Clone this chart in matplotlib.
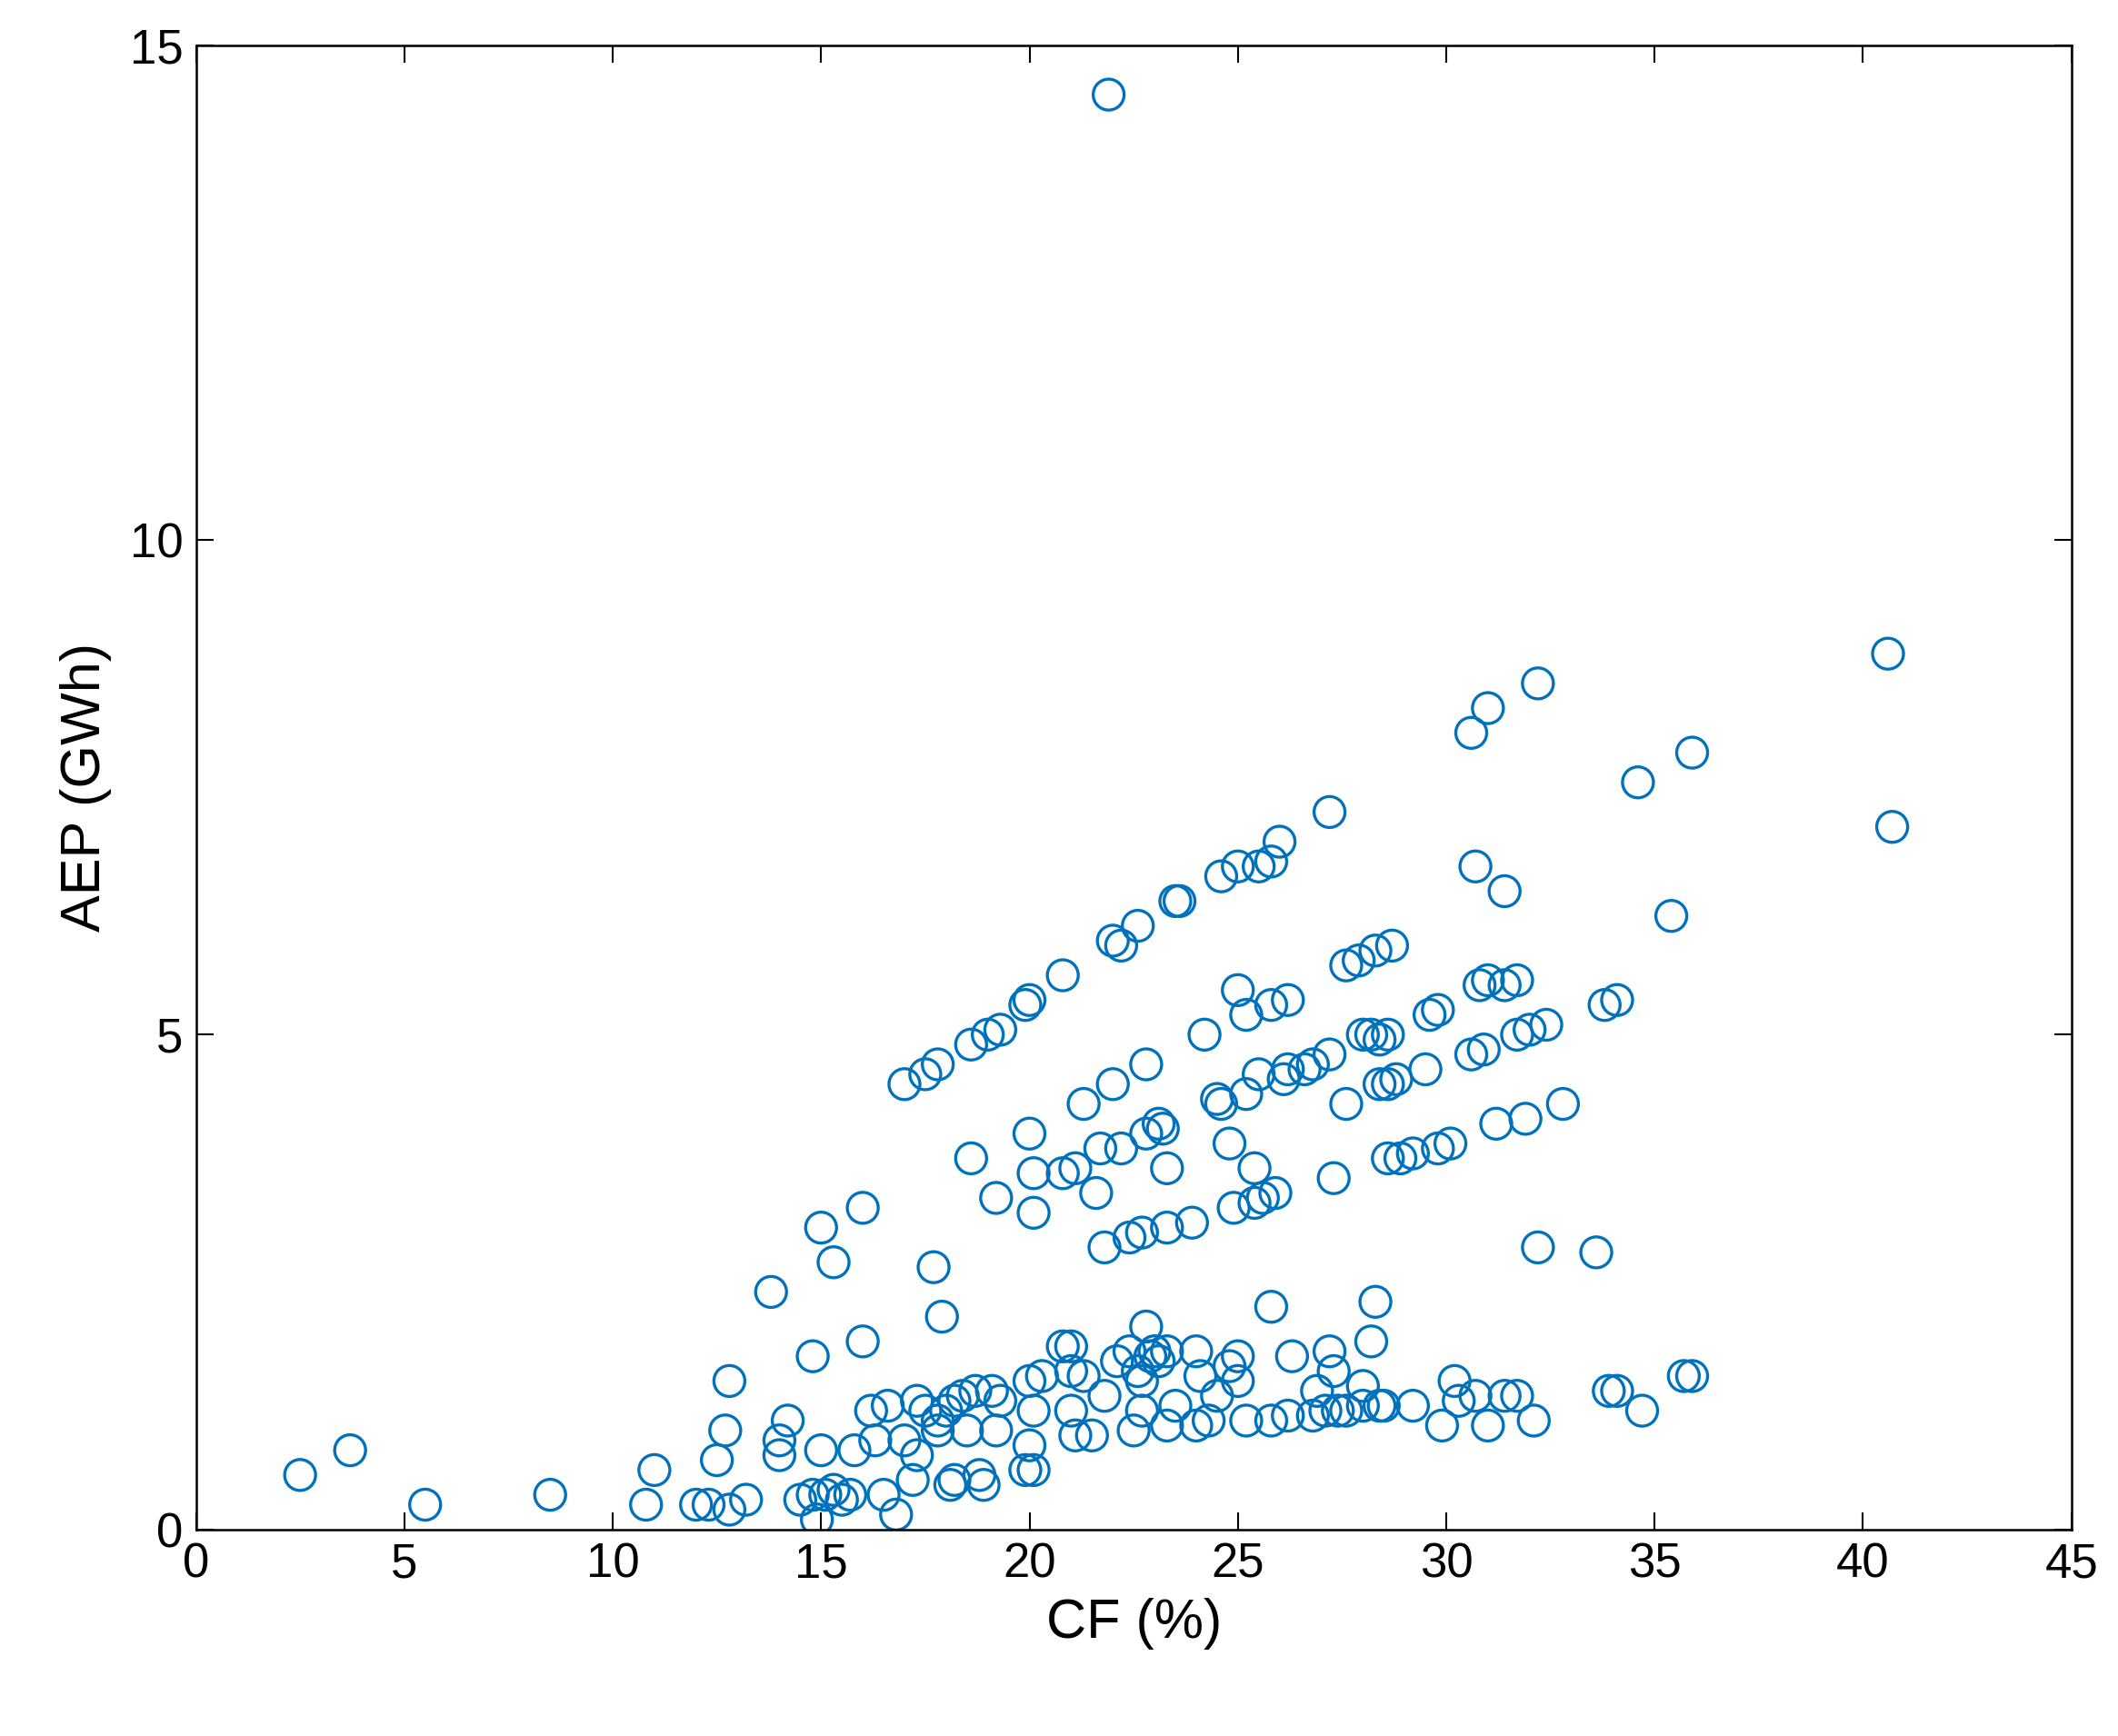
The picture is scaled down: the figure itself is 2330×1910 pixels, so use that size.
import matplotlib
matplotlib.use("Agg")
import matplotlib.pyplot as plt
plt.rcParams['font.family'] = ['Liberation Sans', 'DejaVu Sans']

cf = [17,17.5,17.8,18.6,19,19.3,19.9,20,20.8,22,22.2,22.6,23.5,23.6,24.6,25,25.5,25.8,26,27.2,30.6,31,32.2,40.6,40.7,35.9,34.6,35.4,31.4,30.7,
      18.6,19.2,20,20.1,20.1,20.8,21.1,21.3,21.6,21.7,22,22.2,22.8,22.8,23.1,23.2,23.3,24.2,24.5,24.6,24.8,25,25.2,25.2,25.4,25.5,25.8,26.1,26.2,26.2,26.6,26.8,27.2,27.6,27.6,27.3,27.9,28,28.2,28.3,28.4,28.4,28.7,28.6,28.6,28.8,28.6,28.9,29.2,29.5,29.6,29.8,29.8,30.1,30.6,30.8,30.9,31,31.2,31.4,31.7,31.7,31.9,32.0,32.4,32.8,33.8,34.1,32.2,33.6,
      21.8,22.4,22.7,23.3,23.9,24.9,25.4,25.6,25.9,
      2.5,3.7,5.5,8.5,10.8,11.0,12,12.3,12.5,12.7,12.8,12.8,13.2,13.8,14,14,14.2,14.5,14.8,14.8,14.9,15,15,15.1,15.3,15.3,15.5,15.7,15.8,16,16,16.2,16.3,16.5,16.6,16.8,17,17.2,17.3,17.3,17.5,17.7,17.8,17.8,17.9,18,18.1,18.2,18.2,18.4,18.5,18.7,18.8,18.9,19.1,19.2,19.3,19.9,20,20,20.1,20.1,20.3,20.8,21,21,21,21.1,21.3,21.5,21.8,22.1,22.4,22.5,22.6,22.7,22.7,22.8,22.9,23,23.1,23.3,23.3,23.5,24,24,24.1,24.3,24.5,24.8,25,25,25.2,25.8,25.8,26.2,26.3,26.8,26.9,27.1,27.2,27.3,27.4,27.6,28,28,28.2,28.3,28.4,28.5,29.2,29.9,30.2,30.3,30.7,31,31.4,31.7,32.1,33.9,34.1,34.7,35.7,35.9,21.9]
aep = [4.5,4.6,4.7,4.9,5.0,5.05,5.3,5.35,5.6,5.95,5.9,6.1,6.35,6.35,6.6,6.7,6.7,6.75,6.95,7.25,8.05,8.3,8.55,8.85,7.1,7.85,7.55,6.2,6.45,6.7,
       3.75,3.35,4.0,3.6,3.2,3.6,3.65,4.3,3.4,3.85,4.5,3.85,4.7,4.0,4.1,4.05,3.65,5.0,4.35,4.3,3.9,5.45,5.2,4.4,3.65,4.6,5.3,4.55,5.35,4.65,4.65,4.7,4.8,5.7,4.3,3.55,5.75,5.0,5.0,5.85,4.95,4.5,5.9,4.5,5.0,4.55,3.75,3.75,3.8,4.65,5.2,5.25,3.85,3.9,4.8,5.5,4.85,5.55,4.1,5.5,5.55,5.0,4.15,5.05,5.1,4.3,5.3,5.35,2.85,2.8,
       2.85,2.95,3.0,3.05,3.1,3.25,3.3,3.35,3.4,
       0.55,0.8,0.25,0.35,0.25,0.6,0.25,0.25,0.7,1.0,0.2,1.5,0.3,2.4,0.75,0.9,1.1,0.3,0.35,1.75,0.1,0.8,3.05,0.35,2.7,0.4,0.3,0.35,0.8,1.9,3.25,1.2,0.9,0.35,1.25,0.15,0.9,0.5,1.3,0.75,1.2,2.65,1.1,1.0,2.15,1.2,0.45,1.3,0.5,1.35,1.0,1.4,0.55,0.45,1.4,1.0,1.3,0.6,0.85,1.5,1.2,0.6,1.55,1.85,1.85,1.6,1.2,0.95,1.55,0.95,1.35,1.7,1.8,1.0,1.6,1.5,1.2,2.05,1.75,1.8,1.7,1.8,1.05,1.25,1.8,1.05,1.55,1.1,1.35,1.65,1.75,1.5,1.1,2.25,1.1,1.15,1.75,1.15,1.4,1.2,1.8,1.6,1.2,1.2,1.45,1.25,1.9,2.3,1.25,1.25,1.25,1.05,1.5,1.3,1.35,1.05,1.35,1.35,1.1,1.4,1.4,1.2,1.55,1.55,14.5]

fig = plt.figure(figsize=(23.3, 19.1), dpi=100)
ax = fig.add_axes([0.0925, 0.119, 0.8855, 0.855])
ax.scatter(cf, aep, s=600, facecolors='none', edgecolors='#0072BD', linewidths=2.4)
ax.set_xlim(0, 45)
ax.set_ylim(0, 15)
ax.set_xticks(range(0, 46, 5))
ax.set_yticks([0, 5, 10, 15])
ax.tick_params(direction='in', length=14, width=1.5, labelsize=38, top=True, right=True, pad=10)
for s in ax.spines.values():
    s.set_linewidth(1.8)
ax.set_xlabel('CF (%)', fontsize=44, labelpad=8)
ax.set_ylabel('AEP (GWh)', fontsize=44, labelpad=14)
fig.savefig('out.png', dpi=100)
